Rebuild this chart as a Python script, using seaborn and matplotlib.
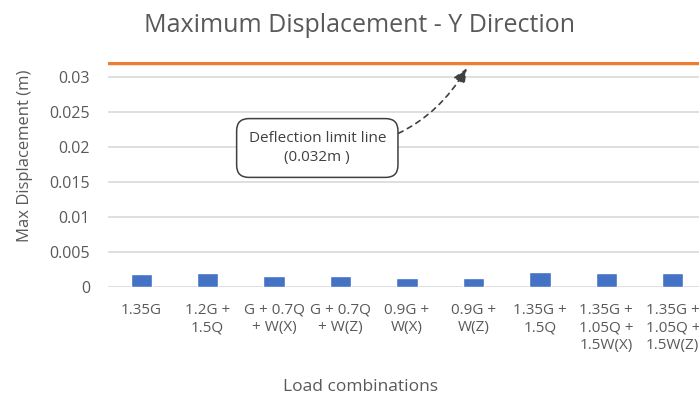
import matplotlib
matplotlib.use("Agg")
import matplotlib.pyplot as plt
import seaborn as sns
import pandas as pd

categories = [
    "1.35G",
    "1.2G +\n1.5Q",
    "G + 0.7Q\n+ W(X)",
    "G + 0.7Q\n+ W(Z)",
    "0.9G +\nW(X)",
    "0.9G +\nW(Z)",
    "1.35G +\n1.5Q",
    "1.35G +\n1.05Q +\n1.5W(X)",
    "1.35G +\n1.05Q +\n1.5W(Z)",
]
max_displacement = [0.0019, 0.0020, 0.00157, 0.00157, 0.00129, 0.00129, 0.0022, 0.0021, 0.0021]
deflection_limit = 0.032
y_ticks = [0, 0.005, 0.01, 0.015, 0.02, 0.025, 0.03]
y_tick_labels = ["0", "0.005", "0.01", "0.015", "0.02", "0.025", "0.03"]

sns.set_theme(style="white")
plt.rcParams["font.family"] = ["Open Sans", "DejaVu Sans"]

text_grey = "#595959"
df = pd.DataFrame({"combo": categories, "disp": max_displacement})

fig = plt.figure(figsize=(6.99, 3.98), dpi=100)
ax = fig.add_axes([108 / 699, 110.7 / 398, 598 / 699, 225.4 / 398])

sns.barplot(data=df, x="combo", y="disp", color="#4472C4", width=0.32,
            saturation=1, ax=ax, zorder=3)

ax.axhline(deflection_limit, color="#ED7D31", lw=2.5, zorder=4)

ax.set_ylim(0, 0.0322)
ax.set_xlim(-0.5, 8.5)
ax.set_yticks(y_ticks)
ax.set_yticklabels(y_tick_labels)
ax.yaxis.grid(True, color="#d9d9d9", lw=1.2, zorder=0)
ax.set_axisbelow(True)
for s in ax.spines.values():
    s.set_visible(False)
ax.tick_params(axis="y", length=0, colors=text_grey, labelsize=11.5, pad=13)
ax.tick_params(axis="x", length=0, colors=text_grey, labelsize=11, pad=11)
for lbl in ax.get_xticklabels():
    lbl.set_multialignment("center")
    lbl.set_linespacing(1.25)

ax.set_xlabel("")
ax.set_ylabel("")
fig.text(360.5 / 699, 1 - 387 / 398, "Load combinations", ha="center", va="center",
         color=text_grey, fontsize=12.5)
fig.text(25 / 699, 1 - 156 / 398, "Max Displacement (m)", ha="center", va="center",
         rotation=90, color=text_grey, fontsize=12)
fig.text(359.5 / 699, 1 - 25 / 398, "Maximum Displacement - Y Direction", ha="center",
         va="center", color=text_grey, fontsize=18)

ax.annotate("Deflection limit line\n(0.032m )",
            xy=(4.9, 0.0313), xytext=(2.65, 0.0199),
            ha="center", va="center", fontsize=11, color="#404040", linespacing=1.45,
            bbox=dict(boxstyle="round,pad=0.78,rounding_size=0.8", fc="white",
                      ec="#404040", lw=1.1),
            arrowprops=dict(arrowstyle="-|>,head_length=0.8,head_width=0.35",
                            color="#404040", ls=(0, (3, 3)), lw=1.2,
                            connectionstyle="arc3,rad=0.3", shrinkA=0, shrinkB=0),
            zorder=5)

fig.savefig("out.png", dpi=100)
